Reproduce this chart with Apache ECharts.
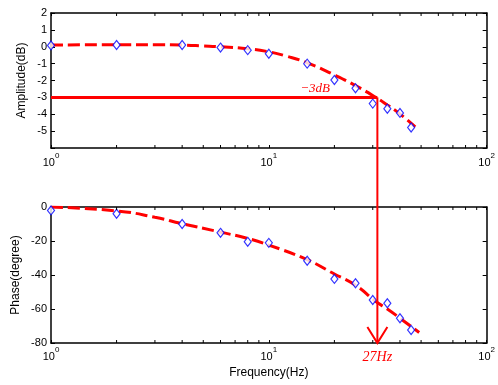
<!DOCTYPE html>
<html><head><meta charset="utf-8">
<script src="https://cdn.jsdelivr.net/npm/echarts@6/dist/echarts.min.js"></script>
<style>html,body{margin:0;padding:0;background:#fff}#c{width:498px;height:385px}</style>
</head><body><div id="c"></div>
<script>
// ---- data ----
const measFreq   = [1, 2, 4, 6, 8, 10, 15, 20, 25, 30, 35, 40, 45];
const ampMeas    = [0.08, 0.1, 0.1, -0.05, -0.2, -0.41, -1.0, -1.97, -2.46, -3.37, -3.67, -3.92, -4.79];
const phaseMeas  = [-2, -4, -10, -15.2, -20.5, -21.1, -31.6, -42.3, -44.9, -54.7, -56.6, -65.4, -72.4];
const ampCurveFreq   = [1, 2, 3, 4, 5, 6, 8, 10, 12, 15, 20, 25, 31, 35, 40, 47];
const ampCurveVal    = [0.1, 0.12, 0.12, 0.1, 0.05, 0.0, -0.12, -0.3, -0.55, -0.95, -1.67, -2.3, -3.0, -3.45, -3.98, -4.75];
const phaseCurveFreq = [1, 2, 3, 4, 6, 8, 10, 15, 20, 25, 31, 35, 40, 49];
const phaseCurveVal  = [0, -2.3, -6, -9.8, -14.8, -18.5, -22.4, -31, -39.4, -46, -55.6, -60, -65.4, -73.8];
const cutoffFreq = 31.5;
const cutoffAmp = -3;
const cutoffLabel = '\u22123dB';
const cutoffLabelPos = [16.3, -2.45];
const freqLabel = '27Hz';
const minorTickFreq = [2, 3, 4, 5, 6, 7, 8, 9, 20, 30, 40, 50, 60, 70, 80, 90];
const freqRange = [1, 100];
const ampRange = [-6, 2, 1];
const phaseRange = [-80, 0, 20];

// ---- chart ----
const FONT = "'Liberation Sans', Arial, sans-serif";
const chart = echarts.init(document.getElementById('c'), null, {renderer: 'canvas'});
const zip = (a, b) => a.map((v, i) => [v, b[i]]);
const AXW = 1.5;

function xAx(grid, pos, showLabel, name) {
  return {
    type: 'log', logBase: 10, gridIndex: grid, position: pos,
    min: freqRange[0], max: freqRange[1],
    axisLine: {show: true, onZero: false, lineStyle: {color: '#000', width: AXW}},
    axisTick: {show: true, inside: true, length: 3, lineStyle: {color: '#000'}},
    splitLine: {show: false}, minorTick: {show: false},
    axisLabel: {
      show: showLabel, margin: grid === 0 ? 4 : 3, color: '#000', fontFamily: FONT,
      formatter: v => '{a|10}{b|' + Math.round(Math.log10(v)) + '}',
      rich: {a: {fontSize: 11, fontFamily: FONT, color: '#000'},
             b: {fontSize: 8, fontFamily: FONT, color: '#000', padding: [0, 0, 14, 0]}}
    },
    name: name || '', nameLocation: 'middle', nameGap: 24, nameMoveOverlap: false,
    nameTextStyle: {fontSize: 12, fontFamily: FONT, color: '#000'}
  };
}
function yAx(grid, pos, r, showLabel, name, gap) {
  return {
    type: 'value', gridIndex: grid, position: pos,
    min: r[0], max: r[1], interval: r[2],
    axisLine: {show: true, onZero: false, lineStyle: {color: '#000', width: AXW}},
    axisTick: {show: true, inside: true, length: 4, lineStyle: {color: '#000'}},
    splitLine: {show: false},
    axisLabel: {show: showLabel, margin: 4, fontSize: 11, color: '#000', fontFamily: FONT,
      formatter: v => (v === r[0] && grid === 0) ? '' : String(v)},
    name: name || '', nameLocation: 'middle', nameGap: gap || 20, nameMoveOverlap: false,
    nameTextStyle: {fontSize: 12, fontFamily: FONT, color: '#000'}
  };
}
function minorTicks(xi, yi, r) {
  return {
    type: 'custom', xAxisIndex: xi, yAxisIndex: yi, clip: false, silent: true, z: 10,
    data: minorTickFreq.map(f => [f]),
    encode: {x: 0},
    renderItem: (params, api) => {
      const b = api.coord([api.value(0), r[0]]);
      const t = api.coord([api.value(0), r[1]]);
      const st = {stroke: '#000', lineWidth: 1};
      return {type: 'group', children: [
        {type: 'line', shape: {x1: b[0], y1: b[1], x2: b[0], y2: b[1] - 3}, style: st},
        {type: 'line', shape: {x1: t[0], y1: t[1], x2: t[0], y2: t[1] + 3}, style: st}
      ]};
    }
  };
}

const option = {
  animation: false,
  backgroundColor: '#fff',
  textStyle: {fontFamily: FONT},
  grid: [
    {left: 51, top: 13, width: 436, height: 135, containLabel: false},
    {left: 51, top: 207, width: 436, height: 136, containLabel: false}
  ],
  xAxis: [
    xAx(0, 'bottom', true), xAx(0, 'top', false),
    xAx(1, 'bottom', true, 'Frequency(Hz)'), xAx(1, 'top', false)
  ],
  yAxis: [
    yAx(0, 'left', ampRange, true, 'Amplitude(dB)', 23), yAx(0, 'right', ampRange, false),
    yAx(1, 'left', phaseRange, true, 'Phase(degree)', 29), yAx(1, 'right', phaseRange, false)
  ],
  series: [
    {type: 'line', xAxisIndex: 0, yAxisIndex: 0, data: zip(ampCurveFreq, ampCurveVal),
     smooth: true, showSymbol: false, z: 2,
     lineStyle: {color: '#ff0000', width: 3, type: [12, 5]},
     markLine: {silent: true, symbol: ['none', 'none'], label: {show: false},
       lineStyle: {color: '#ff0000', width: 3, type: 'solid'},
       data: [[{coord: [freqRange[0], cutoffAmp]}, {coord: [cutoffFreq, cutoffAmp]}]]}},
    {type: 'scatter', xAxisIndex: 0, yAxisIndex: 0, data: zip(measFreq, ampMeas),
     symbol: 'diamond', symbolSize: [7, 9], z: 5,
     itemStyle: {color: '#fff', borderColor: '#0000ff', borderWidth: 1.2}},
    {type: 'line', xAxisIndex: 2, yAxisIndex: 2, data: zip(phaseCurveFreq, phaseCurveVal),
     smooth: true, showSymbol: false, z: 2,
     lineStyle: {color: '#ff0000', width: 3, type: [12, 5]}},
    {type: 'scatter', xAxisIndex: 2, yAxisIndex: 2, data: zip(measFreq, phaseMeas),
     symbol: 'diamond', symbolSize: [7, 9], z: 5,
     itemStyle: {color: '#fff', borderColor: '#0000ff', borderWidth: 1.2}},
    minorTicks(0, 0, ampRange),
    minorTicks(2, 2, phaseRange)
  ]
};
chart.setOption(option);

// annotations placed through the axes' own conversion
const pTop = chart.convertToPixel({xAxisIndex: 0, yAxisIndex: 0}, [cutoffFreq, cutoffAmp]);
const pBot = chart.convertToPixel({xAxisIndex: 2, yAxisIndex: 2}, [cutoffFreq, phaseRange[0]]);
const pLbl = chart.convertToPixel({xAxisIndex: 0, yAxisIndex: 0}, cutoffLabelPos);
chart.setOption({
  graphic: [
    {type: 'line', z: 20, shape: {x1: pTop[0], y1: pTop[1], x2: pBot[0], y2: pBot[1]},
     style: {stroke: '#ff0000', lineWidth: 2}},
    {type: 'polyline', z: 20,
     shape: {points: [[pBot[0] - 10, pBot[1] - 16], [pBot[0], pBot[1]], [pBot[0] + 10, pBot[1] - 16]]},
     style: {stroke: '#ff0000', lineWidth: 2, fill: null}},
    {type: 'text', z: 20, x: pLbl[0], y: pLbl[1],
     style: {text: cutoffLabel, fill: '#ff0000', font: 'italic 13px "Liberation Serif", "Times New Roman", serif',
             align: 'center', verticalAlign: 'middle'}},
    {type: 'text', z: 20, x: pBot[0], y: pBot[1] + 14,
     style: {text: freqLabel, fill: '#ff0000', font: 'italic 14px "Liberation Serif", "Times New Roman", serif',
             align: 'center', verticalAlign: 'middle'}}
  ]
});
</script></body></html>
